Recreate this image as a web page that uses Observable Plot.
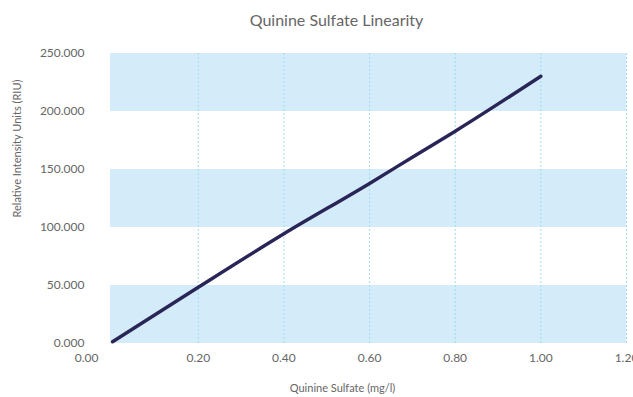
<!DOCTYPE html>
<html>
<head>
<meta charset="utf-8">
<script src="https://cdn.jsdelivr.net/npm/d3@7"></script>
<script src="https://cdn.jsdelivr.net/npm/@observablehq/plot@0.6"></script>
<style>
  html, body { margin: 0; padding: 0; background: #fff; }
  body { width: 633px; height: 397px; overflow: hidden; font-family: Lato, "Open Sans", sans-serif; }
  #title { height: 40px; line-height: 40px; font-size: 16px; color: #666; text-align: center; padding-left: 40px; width: 593px; box-sizing: content-box; }
  #chart svg { display: block; }
</style>
</head>
<body>
<div id="title">Quinine Sulfate Linearity</div>
<div id="chart"></div>
<script>
// Data
const concentration = [0, 0.2, 0.4, 0.6, 0.7, 0.8, 1.0];
const intensity = [1.5, 48.5, 94.6, 138.0, 160.6, 183.0, 230.4];
const yTicks = [0, 50, 100, 150, 200, 250];
const xTicks = [0, 0.2, 0.4, 0.6, 0.8, 1.0, 1.2];
const bandStart = [0, 100, 200];
const bandEnd = [50, 150, 250];
const xTitle = "Quinine Sulfate (mg/l)";
const yTitle = "Relative Intensity Units (RIU)";

const points = concentration.map((c, i) => ({x: c, y: intensity[i]}));
const bands = bandStart.map((s, i) => ({y1: s, y2: bandEnd[i]}));

const chart = Plot.plot({
  width: 633,
  height: 357,
  marginLeft: 110,
  marginRight: 7,
  marginTop: 13,
  marginBottom: 54,
  style: {fontFamily: "Lato, 'Open Sans', sans-serif", fontSize: "12px", color: "#666", background: "#fff"},
  x: {domain: [-0.005, 1.2]},
  y: {domain: [0, 250]},
  marks: [
    Plot.rectY(bands, {y1: "y1", y2: "y2", fill: "#d4ebfa"}),
    Plot.gridX(xTicks.slice(1), {stroke: "#9fdcf2", strokeOpacity: 1, strokeWidth: 1, strokeDasharray: "2,2"}),
    Plot.axisY({ticks: yTicks, tickSize: 0, tickPadding: 26, tickFormat: d3.format(".3f"), label: null, fill: "#666", fontSize: 12}),
    Plot.axisX({ticks: xTicks.slice(1), tickSize: 0, tickPadding: 10, tickFormat: d3.format(".2f"), label: null, fill: "#666", fontSize: 12}),
    Plot.axisX({ticks: xTicks.slice(0, 1), tickSize: 0, tickPadding: 10, tickFormat: d3.format(".2f"), label: null, fill: "#666", fontSize: 12, dx: -26}),
    Plot.line(points, {x: "x", y: "y", stroke: "#2a2557", strokeWidth: 3.4, curve: "monotone-x"}),
    Plot.text([xTitle], {frameAnchor: "bottom", dy: 48, dx: -26, text: d => d, fill: "#666", fontSize: 11}),
    Plot.text([yTitle], {frameAnchor: "left", dx: -93, dy: 19, rotate: -90, text: d => d, fill: "#666", fontSize: 11})
  ]
});
document.getElementById("chart").appendChild(chart);
</script>
</body>
</html>
